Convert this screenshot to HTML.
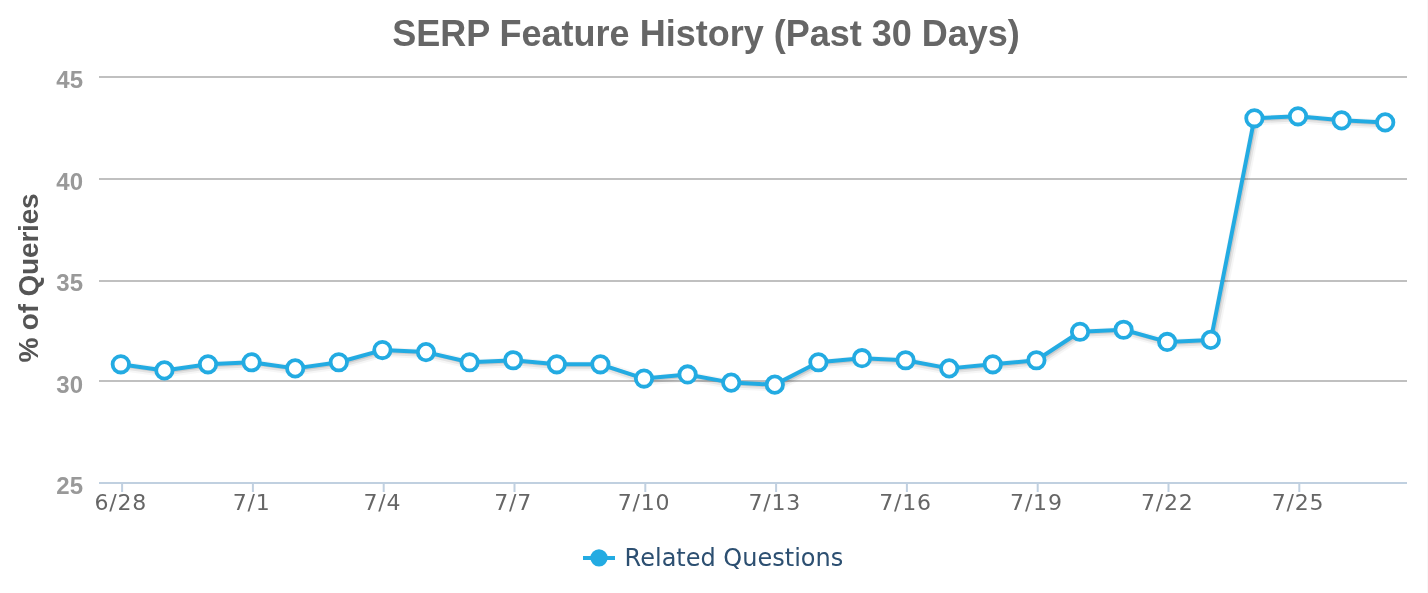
<!DOCTYPE html>
<html><head><meta charset="utf-8"><title>SERP Feature History</title>
<style>
html,body{margin:0;padding:0;background:#fff;}
body{width:1428px;height:593px;overflow:hidden;}
svg{display:block;}
text{font-family:"Liberation Sans",Arial,Helvetica,sans-serif;}
.v{font-family:"DejaVu Sans",Verdana,sans-serif;}
</style></head><body>
<svg width="1428" height="593" viewBox="0 0 1428 593">
<rect x="0" y="0" width="1428" height="593" fill="#ffffff"/>
<rect x="1427" y="0" width="1" height="593" fill="#f8f8f8"/>

<rect x="99" y="76" width="1308" height="2" fill="#c0c0c0"/>
<rect x="99" y="178" width="1308" height="2" fill="#c0c0c0"/>
<rect x="99" y="280" width="1308" height="2" fill="#c0c0c0"/>
<rect x="99" y="380" width="1308" height="2" fill="#c0c0c0"/>
<rect x="99" y="482" width="1308" height="2" fill="#c0d0e0"/>
<rect x="121.10" y="482" width="2" height="10" fill="#c0d0e0"/>
<rect x="251.90" y="482" width="2" height="10" fill="#c0d0e0"/>
<rect x="382.70" y="482" width="2" height="10" fill="#c0d0e0"/>
<rect x="513.50" y="482" width="2" height="10" fill="#c0d0e0"/>
<rect x="644.30" y="482" width="2" height="10" fill="#c0d0e0"/>
<rect x="775.10" y="482" width="2" height="10" fill="#c0d0e0"/>
<rect x="905.90" y="482" width="2" height="10" fill="#c0d0e0"/>
<rect x="1036.70" y="482" width="2" height="10" fill="#c0d0e0"/>
<rect x="1167.50" y="482" width="2" height="10" fill="#c0d0e0"/>
<rect x="1298.30" y="482" width="2" height="10" fill="#c0d0e0"/>
<text x="706" y="46" text-anchor="middle" font-size="36" font-weight="bold" fill="#666666">SERP Feature History (Past 30 Days)</text>
<text x="83" y="88" text-anchor="end" font-size="24" font-weight="bold" fill="#999999">45</text>
<text x="83" y="189.7" text-anchor="end" font-size="24" font-weight="bold" fill="#999999">40</text>
<text x="83" y="291.2" text-anchor="end" font-size="24" font-weight="bold" fill="#999999">35</text>
<text x="83" y="392.6" text-anchor="end" font-size="24" font-weight="bold" fill="#999999">30</text>
<text x="83" y="494" text-anchor="end" font-size="24" font-weight="bold" fill="#999999">25</text>
<text transform="translate(38 278) rotate(-90)" text-anchor="middle" letter-spacing="-0.18" font-size="28" font-weight="bold" fill="#555555">% of Queries</text>
<text class="v" x="120.80" y="510" text-anchor="middle" font-size="22" letter-spacing="0.8" fill="#666666">6/28</text>
<text class="v" x="251.60" y="510" text-anchor="middle" font-size="22" letter-spacing="0.8" fill="#666666">7/1</text>
<text class="v" x="382.40" y="510" text-anchor="middle" font-size="22" letter-spacing="0.8" fill="#666666">7/4</text>
<text class="v" x="513.20" y="510" text-anchor="middle" font-size="22" letter-spacing="0.8" fill="#666666">7/7</text>
<text class="v" x="644.00" y="510" text-anchor="middle" font-size="22" letter-spacing="0.8" fill="#666666">7/10</text>
<text class="v" x="774.80" y="510" text-anchor="middle" font-size="22" letter-spacing="0.8" fill="#666666">7/13</text>
<text class="v" x="905.60" y="510" text-anchor="middle" font-size="22" letter-spacing="0.8" fill="#666666">7/16</text>
<text class="v" x="1036.40" y="510" text-anchor="middle" font-size="22" letter-spacing="0.8" fill="#666666">7/19</text>
<text class="v" x="1167.20" y="510" text-anchor="middle" font-size="22" letter-spacing="0.8" fill="#666666">7/22</text>
<text class="v" x="1298.00" y="510" text-anchor="middle" font-size="22" letter-spacing="0.8" fill="#666666">7/25</text>
<g transform="translate(2 2)" fill="none" stroke="#000" stroke-linejoin="round" stroke-linecap="round">
<path d="M 120.80 364.30 L 164.40 370.40 L 208.00 364.30 L 251.60 362.27 L 295.20 368.37 L 338.80 362.27 L 382.40 350.07 L 426.00 352.11 L 469.60 362.27 L 513.20 360.24 L 556.80 364.30 L 600.40 364.30 L 644.00 378.53 L 687.60 374.47 L 731.20 382.60 L 774.80 384.63 L 818.40 362.27 L 862.00 358.20 L 905.60 360.24 L 949.20 368.37 L 992.80 364.30 L 1036.40 360.24 L 1080.00 331.77 L 1123.60 329.74 L 1167.20 341.94 L 1210.80 339.91 L 1254.40 118.31 L 1298.00 116.28 L 1341.60 120.34 L 1385.20 122.38" stroke-width="10" stroke-opacity="0.035"/>
<path d="M 120.80 364.30 L 164.40 370.40 L 208.00 364.30 L 251.60 362.27 L 295.20 368.37 L 338.80 362.27 L 382.40 350.07 L 426.00 352.11 L 469.60 362.27 L 513.20 360.24 L 556.80 364.30 L 600.40 364.30 L 644.00 378.53 L 687.60 374.47 L 731.20 382.60 L 774.80 384.63 L 818.40 362.27 L 862.00 358.20 L 905.60 360.24 L 949.20 368.37 L 992.80 364.30 L 1036.40 360.24 L 1080.00 331.77 L 1123.60 329.74 L 1167.20 341.94 L 1210.80 339.91 L 1254.40 118.31 L 1298.00 116.28 L 1341.60 120.34 L 1385.20 122.38" stroke-width="6" stroke-opacity="0.07"/>
<path d="M 120.80 364.30 L 164.40 370.40 L 208.00 364.30 L 251.60 362.27 L 295.20 368.37 L 338.80 362.27 L 382.40 350.07 L 426.00 352.11 L 469.60 362.27 L 513.20 360.24 L 556.80 364.30 L 600.40 364.30 L 644.00 378.53 L 687.60 374.47 L 731.20 382.60 L 774.80 384.63 L 818.40 362.27 L 862.00 358.20 L 905.60 360.24 L 949.20 368.37 L 992.80 364.30 L 1036.40 360.24 L 1080.00 331.77 L 1123.60 329.74 L 1167.20 341.94 L 1210.80 339.91 L 1254.40 118.31 L 1298.00 116.28 L 1341.60 120.34 L 1385.20 122.38" stroke-width="2" stroke-opacity="0.105"/>
</g>
<path d="M 120.80 364.30 L 164.40 370.40 L 208.00 364.30 L 251.60 362.27 L 295.20 368.37 L 338.80 362.27 L 382.40 350.07 L 426.00 352.11 L 469.60 362.27 L 513.20 360.24 L 556.80 364.30 L 600.40 364.30 L 644.00 378.53 L 687.60 374.47 L 731.20 382.60 L 774.80 384.63 L 818.40 362.27 L 862.00 358.20 L 905.60 360.24 L 949.20 368.37 L 992.80 364.30 L 1036.40 360.24 L 1080.00 331.77 L 1123.60 329.74 L 1167.20 341.94 L 1210.80 339.91 L 1254.40 118.31 L 1298.00 116.28 L 1341.60 120.34 L 1385.20 122.38" fill="none" stroke="#23abe2" stroke-width="4" stroke-linejoin="round" stroke-linecap="round"/>
<circle cx="120.80" cy="364.30" r="8.2" fill="#ffffff" stroke="#23abe2" stroke-width="3.8"/>
<circle cx="164.40" cy="370.40" r="8.2" fill="#ffffff" stroke="#23abe2" stroke-width="3.8"/>
<circle cx="208.00" cy="364.30" r="8.2" fill="#ffffff" stroke="#23abe2" stroke-width="3.8"/>
<circle cx="251.60" cy="362.27" r="8.2" fill="#ffffff" stroke="#23abe2" stroke-width="3.8"/>
<circle cx="295.20" cy="368.37" r="8.2" fill="#ffffff" stroke="#23abe2" stroke-width="3.8"/>
<circle cx="338.80" cy="362.27" r="8.2" fill="#ffffff" stroke="#23abe2" stroke-width="3.8"/>
<circle cx="382.40" cy="350.07" r="8.2" fill="#ffffff" stroke="#23abe2" stroke-width="3.8"/>
<circle cx="426.00" cy="352.11" r="8.2" fill="#ffffff" stroke="#23abe2" stroke-width="3.8"/>
<circle cx="469.60" cy="362.27" r="8.2" fill="#ffffff" stroke="#23abe2" stroke-width="3.8"/>
<circle cx="513.20" cy="360.24" r="8.2" fill="#ffffff" stroke="#23abe2" stroke-width="3.8"/>
<circle cx="556.80" cy="364.30" r="8.2" fill="#ffffff" stroke="#23abe2" stroke-width="3.8"/>
<circle cx="600.40" cy="364.30" r="8.2" fill="#ffffff" stroke="#23abe2" stroke-width="3.8"/>
<circle cx="644.00" cy="378.53" r="8.2" fill="#ffffff" stroke="#23abe2" stroke-width="3.8"/>
<circle cx="687.60" cy="374.47" r="8.2" fill="#ffffff" stroke="#23abe2" stroke-width="3.8"/>
<circle cx="731.20" cy="382.60" r="8.2" fill="#ffffff" stroke="#23abe2" stroke-width="3.8"/>
<circle cx="774.80" cy="384.63" r="8.2" fill="#ffffff" stroke="#23abe2" stroke-width="3.8"/>
<circle cx="818.40" cy="362.27" r="8.2" fill="#ffffff" stroke="#23abe2" stroke-width="3.8"/>
<circle cx="862.00" cy="358.20" r="8.2" fill="#ffffff" stroke="#23abe2" stroke-width="3.8"/>
<circle cx="905.60" cy="360.24" r="8.2" fill="#ffffff" stroke="#23abe2" stroke-width="3.8"/>
<circle cx="949.20" cy="368.37" r="8.2" fill="#ffffff" stroke="#23abe2" stroke-width="3.8"/>
<circle cx="992.80" cy="364.30" r="8.2" fill="#ffffff" stroke="#23abe2" stroke-width="3.8"/>
<circle cx="1036.40" cy="360.24" r="8.2" fill="#ffffff" stroke="#23abe2" stroke-width="3.8"/>
<circle cx="1080.00" cy="331.77" r="8.2" fill="#ffffff" stroke="#23abe2" stroke-width="3.8"/>
<circle cx="1123.60" cy="329.74" r="8.2" fill="#ffffff" stroke="#23abe2" stroke-width="3.8"/>
<circle cx="1167.20" cy="341.94" r="8.2" fill="#ffffff" stroke="#23abe2" stroke-width="3.8"/>
<circle cx="1210.80" cy="339.91" r="8.2" fill="#ffffff" stroke="#23abe2" stroke-width="3.8"/>
<circle cx="1254.40" cy="118.31" r="8.2" fill="#ffffff" stroke="#23abe2" stroke-width="3.8"/>
<circle cx="1298.00" cy="116.28" r="8.2" fill="#ffffff" stroke="#23abe2" stroke-width="3.8"/>
<circle cx="1341.60" cy="120.34" r="8.2" fill="#ffffff" stroke="#23abe2" stroke-width="3.8"/>
<circle cx="1385.20" cy="122.38" r="8.2" fill="#ffffff" stroke="#23abe2" stroke-width="3.8"/>
<rect x="583" y="556" width="32" height="4" fill="#23abe2"/>
<circle cx="599" cy="557.9" r="8.6" fill="#23abe2"/>
<text class="v" x="624.6" y="566.4" font-size="24" fill="#2c4f71">Related Questions</text>
</svg></body></html>
